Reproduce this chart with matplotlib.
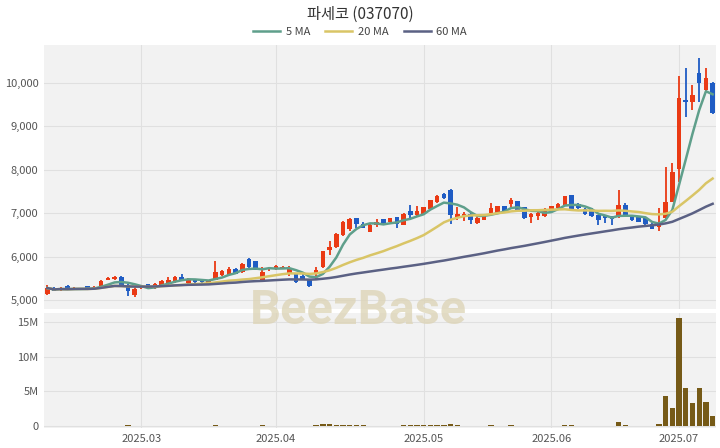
import numpy as np
import pandas as pd
import matplotlib
matplotlib.use("Agg")
import matplotlib.pyplot as plt
from matplotlib.lines import Line2D
from matplotlib.ticker import FuncFormatter

plt.rcParams['font.family'] = ['Noto Sans CJK KR', 'DejaVu Sans']

# ---- data ----
# trading days: weekdays minus KRX holidays
holidays = ['2025-03-03', '2025-05-01', '2025-05-05', '2025-05-06', '2025-06-03', '2025-06-06']
dates = pd.bdate_range('2025-02-11', '2025-07-08')
dates = dates[~dates.isin(pd.to_datetime(holidays))]

opens = [5140, 5260, 5220, 5320, 5235, 5240, 5315, 5250, 5300, 5460,
         5480, 5530, 5350, 5110, 5270, 5360, 5290, 5340, 5370, 5420,
         5540, 5400, 5470, 5480, 5380, 5470, 5570, 5570, 5720, 5640,
         5950, 5890, 5450, 5710, 5720, 5730, 5610, 5600, 5560, 5460,
         5600, 5760, 6150, 6220, 6490, 6640, 6890, 6760, 6570, 6720,
         6860, 6800, 6910, 6740, 7060, 6950, 6990, 7100, 7250, 7450,
         7530, 6920, 6910, 6990, 6770, 6850, 7000, 6990, 7160, 7210,
         7280, 7140, 6920, 6930, 6930, 7050, 7110, 7190, 7410, 7220,
         7100, 7100, 6950, 6950, 6920, 6910, 7190, 6950, 6910, 6880,
         6760, 6680, 6880, 7260, 8030, 9610, 9570, 10220, 9840, 9990]
highs = [5335, 5290, 5290, 5350, 5290, 5285, 5325, 5320, 5450, 5530,
         5550, 5550, 5380, 5290, 5350, 5370, 5400, 5460, 5520, 5560,
         5590, 5510, 5490, 5490, 5470, 5900, 5690, 5760, 5740, 5850,
         5960, 5900, 5760, 5770, 5800, 5790, 5780, 5610, 5600, 5470,
         5750, 6130, 6370, 6540, 6810, 6890, 6900, 6800, 6750, 6860,
         6870, 6900, 6920, 7000, 7180, 7170, 7150, 7310, 7410, 7460,
         7550, 7140, 7030, 7000, 6910, 6980, 7240, 7170, 7170, 7360,
         7290, 7150, 7010, 7020, 7120, 7170, 7230, 7400, 7420, 7230,
         7110, 7110, 6960, 6960, 6930, 7530, 7230, 6960, 6920, 6890,
         6770, 7110, 8070, 8150, 10170, 10340, 9950, 10570, 10350, 10030]
lows = [5105, 5200, 5205, 5235, 5225, 5230, 5240, 5240, 5290, 5450,
        5470, 5290, 5100, 5070, 5250, 5290, 5260, 5320, 5350, 5400,
        5450, 5380, 5400, 5380, 5370, 5460, 5550, 5560, 5600, 5630,
        5740, 5690, 5440, 5680, 5700, 5710, 5550, 5390, 5450, 5310,
        5460, 5740, 6030, 6200, 6480, 6600, 6660, 6650, 6560, 6680,
        6750, 6790, 6660, 6730, 6900, 6940, 6980, 7090, 7240, 7330,
        6760, 6840, 6820, 6760, 6760, 6840, 6990, 6980, 7040, 7140,
        7060, 6870, 6780, 6850, 6920, 7040, 7100, 7180, 7070, 7100,
        6970, 6920, 6720, 6780, 6720, 6880, 6930, 6820, 6790, 6740,
        6630, 6600, 6870, 7250, 7720, 9220, 9380, 9570, 9800, 9290]
closes = [5275, 5215, 5265, 5245, 5270, 5270, 5245, 5300, 5435, 5510,
          5535, 5300, 5210, 5260, 5300, 5300, 5380, 5440, 5470, 5520,
          5470, 5490, 5420, 5410, 5460, 5640, 5660, 5720, 5610, 5830,
          5760, 5700, 5640, 5740, 5780, 5770, 5740, 5410, 5460, 5320,
          5700, 6120, 6230, 6530, 6800, 6870, 6760, 6660, 6740, 6790,
          6760, 6890, 6760, 6990, 6950, 7040, 7140, 7300, 7400, 7340,
          6950, 6990, 6990, 6850, 6900, 6970, 7110, 7160, 7050, 7300,
          7070, 6880, 6980, 7010, 7100, 7160, 7220, 7390, 7080, 7110,
          6980, 6930, 6840, 6880, 6860, 7180, 6950, 6840, 6800, 6760,
          6640, 6760, 7260, 7950, 9650, 9570, 9720, 9990, 10120, 9300]
volumes = [60000, 30000, 25000, 40000, 20000, 15000, 30000, 25000, 60000, 50000,
           40000, 70000, 80000, 70000, 30000, 30000, 40000, 50000, 60000, 50000,
           40000, 35000, 30000, 35000, 30000, 150000, 60000, 60000, 50000, 70000,
           70000, 60000, 80000, 40000, 40000, 30000, 50000, 60000, 30000, 70000,
           90000, 250000, 220000, 180000, 200000, 140000, 100000, 80000, 70000, 60000,
           50000, 40000, 70000, 100000, 120000, 100000, 90000, 130000, 150000, 90000,
           220000, 110000, 60000, 50000, 40000, 40000, 90000, 70000, 40000, 80000,
           60000, 60000, 50000, 40000, 50000, 60000, 50000, 90000, 110000, 50000,
           40000, 40000, 60000, 50000, 50000, 620000, 200000, 60000, 40000, 50000,
           70000, 230000, 4350000, 2600000, 15600000, 5450000, 3300000, 5550000, 3400000, 1500000]

ma_windows = [5, 20, 60]
ma_colors = ['#5f9f8b', '#d9c566', '#5b6184']

UP = '#ea3a14'
DOWN = '#1f5cc4'
BG = '#f2f2f2'
GRID = '#e0e0e0'

df = pd.DataFrame({'date': dates, 'open': opens, 'high': highs,
                   'low': lows, 'close': closes, 'volume': volumes})
x = np.arange(len(df))
up = df['close'] >= df['open']
colors = np.where(up, UP, DOWN)

fig = plt.figure(figsize=(7.2, 4.48), dpi=100)
ax = fig.add_axes([44 / 720, 1 - 309 / 448, 672 / 720, 264 / 448])
axv = fig.add_axes([44 / 720, 1 - 428 / 448, 672 / 720, 115 / 448], sharex=ax)

for a in (ax, axv):
    a.set_facecolor(BG)
    for s in a.spines.values():
        s.set_visible(False)
    a.grid(True, color=GRID, linewidth=0.8)
    a.set_axisbelow(True)
    a.tick_params(length=0, labelsize=8, colors='#555555', pad=4)

# candles
ax.vlines(x, df['low'], df['high'], color=colors, linewidth=1.3, zorder=2)
body = (df['close'] - df['open']).abs().clip(lower=15)
ax.bar(x, body, bottom=df[['open', 'close']].min(axis=1), width=0.68,
       color=colors, zorder=3)

# moving averages
for w, c in zip(ma_windows, ma_colors):
    ma = df['close'].rolling(w, min_periods=1).mean()
    ax.plot(x, ma, color=c, linewidth=1.8, zorder=4)

ax.set_ylim(4793, 10876)
ax.set_yticks([5000, 6000, 7000, 8000, 9000, 10000])
ax.yaxis.set_major_formatter(FuncFormatter(lambda v, _: f'{v:,.0f}'))
ax.tick_params(labelbottom=False)

# volume
axv.bar(x, df['volume'], width=0.8, color='#765a17', zorder=3)
axv.set_ylim(-290000, 16300000)
axv.set_yticks([0, 5e6, 10e6, 15e6])
axv.set_yticklabels(['0', '5M', '10M', '15M'])

# month ticks at first trading day of each month
month_first = df.groupby(df['date'].dt.to_period('M')).head(1)
month_first = month_first[month_first['date'].dt.month > 2]
axv.set_xticks(month_first.index)
axv.set_xticklabels(month_first['date'].dt.strftime('%Y.%m'))
axv.set_xlim(-0.5, len(df) - 0.5)

# title, legend, watermark
fig.text(0.5, 1 - 14 / 448, '파세코 (037070)', ha='center', va='center',
         fontsize=11, color='#333333')
handles = [Line2D([0], [0], color=c, linewidth=1.8) for c in ma_colors]
fig.legend(handles, [f'{w} MA' for w in ma_windows], loc='center',
           bbox_to_anchor=(0.5, 1 - 32 / 448), ncol=3, frameon=False,
           fontsize=8, handlelength=2.4, columnspacing=1.4, handletextpad=0.5,
           labelcolor='#444444')
fig.text(358 / 720, 1 - 311 / 448, 'BeezBase', ha='center', va='center',
         fontsize=35, fontweight='bold', family='Roboto', color='#dcd3b4',
         alpha=0.75, zorder=10)

fig.savefig('out.png', dpi=100)
